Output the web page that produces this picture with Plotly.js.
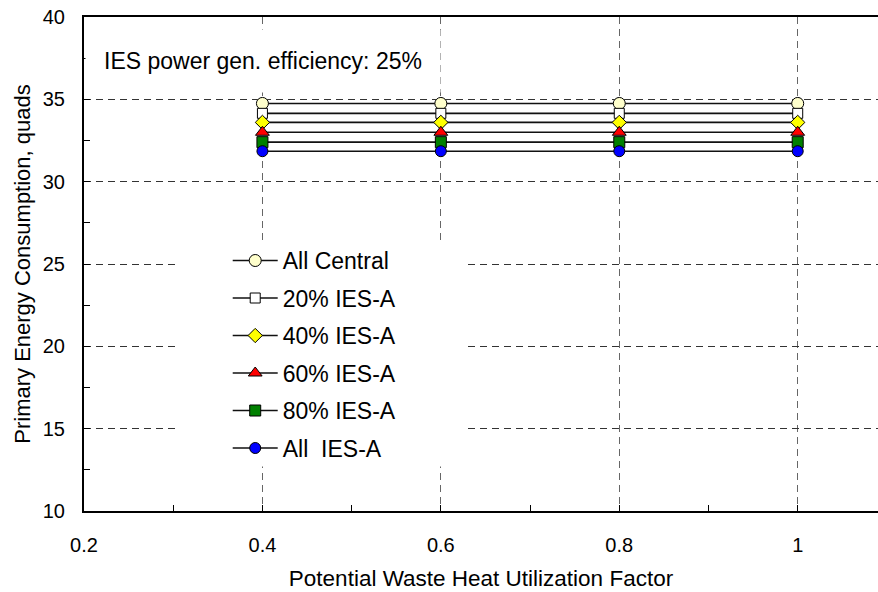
<!DOCTYPE html>
<html>
<head>
<meta charset="utf-8">
<script src="https://cdn.plot.ly/plotly-3.0.1.min.js"></script>
<style>html,body{margin:0;padding:0;background:#fff;}#chart{width:878px;height:592px;}</style>
</head>
<body>
<div id="chart"></div>
<script>
// Data
const xFactor = [0.4, 0.6, 0.8, 1.0];
const seriesNames = ["All Central", "20% IES-A", "40% IES-A", "60% IES-A", "80% IES-A", "All\u00a0 IES-A"];
const allCentral = [34.75, 34.75, 34.75, 34.75];
const ies20 = [34.15, 34.15, 34.15, 34.15];
const ies40 = [33.6, 33.6, 33.6, 33.6];
const ies60 = [33.0, 33.0, 33.0, 33.0];
const ies80 = [32.4, 32.4, 32.4, 32.4];
const allIES = [31.85, 31.85, 31.85, 31.85];
const xTicks = [0.2, 0.4, 0.6, 0.8, 1.0];
const xTickText = ["0.2", "0.4", "0.6", "0.8", "1"];
const yTicks = [10, 15, 20, 25, 30, 35, 40];

const seriesValues = [allCentral, ies20, ies40, ies60, ies80, allIES];
const markerStyles = [
  {symbol: "circle", color: "#FFFFCC", size: 12},
  {symbol: "square", color: "#FFFFFF", size: 10},
  {symbol: "diamond", color: "#FFFF00", size: 11},
  {symbol: "triangle-up", color: "#FF0000", size: 12},
  {symbol: "square", color: "#008000", size: 11},
  {symbol: "circle", color: "#0000FF", size: 11}
];

const traces = seriesValues.map((vals, i) => ({
  type: "scatter",
  mode: "lines+markers",
  x: xFactor,
  y: vals,
  name: seriesNames[i],
  legendgroup: "g" + i,
  line: {color: "#111111", width: 1.6},
  marker: {symbol: markerStyles[i].symbol, color: markerStyles[i].color, size: markerStyles[i].size,
           line: {color: "#000000", width: 1}},
  cliponaxis: false
}));

const font = "Liberation Sans, Arial, sans-serif";
const layout = {
  width: 878, height: 592,
  margin: {l: 83.5, r: 0, t: 16.7, b: 81},
  paper_bgcolor: "#ffffff",
  plot_bgcolor: "#ffffff",
  font: {family: font, size: 20, color: "#000000"},
  showlegend: true,
  legend: {
    x: 0.181, y: 0.5505, xanchor: "left", yanchor: "top",
    bgcolor: "rgba(255,255,255,0)", borderwidth: 0,
    font: {family: font, size: 23, color: "#000000"},
    traceorder: "grouped", tracegroupgap: 4.6,
    itemwidth: 45
  },
  shapes: [{
    type: "rect", xref: "paper", yref: "paper", layer: "above",
    x0: 0.118, x1: 0.483, y0: 0.09, y1: 0.545,
    fillcolor: "#ffffff", line: {width: 0}
  }],
  xaxis: {
    range: [0.2, 1.09],
    tickmode: "array", tickvals: xTicks, ticktext: xTickText,
    showgrid: true, gridcolor: "#666666", griddash: "7px,5px", gridwidth: 1,
    zeroline: false,
    showline: true, linecolor: "#000000", linewidth: 2, mirror: true,
    ticks: "inside", ticklen: 6, tickcolor: "#000000",
    minor: {dtick: 0.1, tick0: 0.2, ticks: "inside", ticklen: 6, tickcolor: "#000000", showgrid: false},
    tickfont: {family: font, size: 20},
    ticklabelstandoff: 15,
    title: {text: "Potential Waste Heat Utilization Factor", font: {family: font, size: 22.5}, standoff: 15}
  },
  yaxis: {
    range: [10, 40],
    tickmode: "array", tickvals: yTicks,
    showgrid: true, gridcolor: "#333333", griddash: "7px,5px", gridwidth: 1,
    zeroline: false,
    showline: true, linecolor: "#000000", linewidth: 2,
    ticks: "inside", ticklen: 6, tickcolor: "#000000",
    minor: {dtick: 2.5, tick0: 10, ticks: "inside", ticklen: 6, tickcolor: "#000000", showgrid: false},
    tickfont: {family: font, size: 20},
    ticklabelstandoff: 13,
    title: {text: "Primary Energy Consumption, quads", font: {family: font, size: 22}, standoff: 6}
  },
  annotations: [{
    xref: "paper", yref: "paper", x: 0.0, y: 0.91, xanchor: "left", yanchor: "middle",
    xshift: 1,
    text: "IES power gen. efficiency: 25%", showarrow: false,
    bgcolor: "#ffffff", borderpad: 18, font: {family: font, size: 23, color: "#000000"}
  }]
};

Plotly.newPlot("chart", traces, layout, {displayModeBar: false, staticPlot: true});
</script>
</body>
</html>
